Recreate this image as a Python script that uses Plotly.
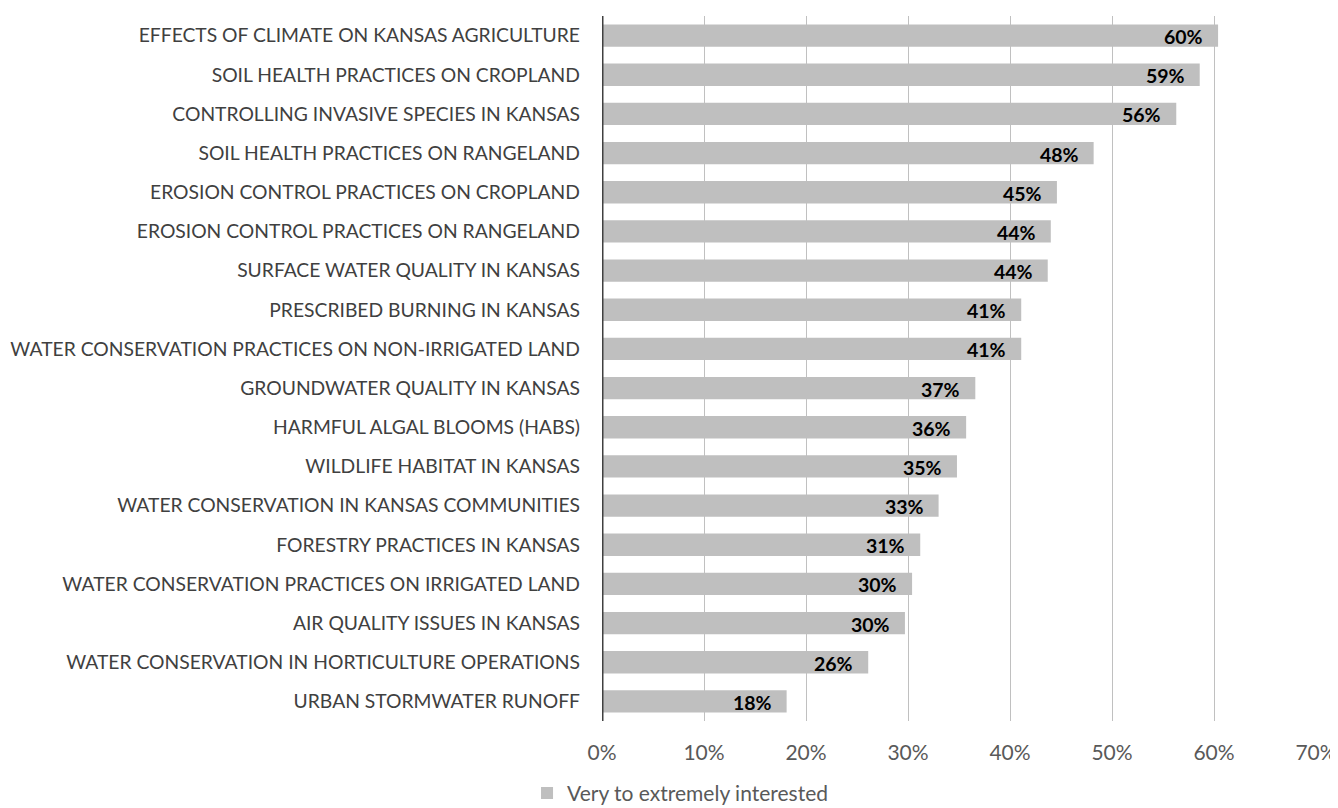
import plotly.graph_objects as go

categories = [
    "EFFECTS OF CLIMATE ON KANSAS AGRICULTURE",
    "SOIL HEALTH PRACTICES ON CROPLAND",
    "CONTROLLING INVASIVE SPECIES IN KANSAS",
    "SOIL HEALTH PRACTICES ON RANGELAND",
    "EROSION CONTROL PRACTICES ON CROPLAND",
    "EROSION CONTROL PRACTICES ON RANGELAND",
    "SURFACE WATER QUALITY IN KANSAS",
    "PRESCRIBED BURNING IN KANSAS",
    "WATER CONSERVATION PRACTICES ON NON-IRRIGATED LAND",
    "GROUNDWATER QUALITY IN KANSAS",
    "HARMFUL ALGAL BLOOMS (HABS)",
    "WILDLIFE HABITAT IN KANSAS",
    "WATER CONSERVATION IN KANSAS COMMUNITIES",
    "FORESTRY PRACTICES IN KANSAS",
    "WATER CONSERVATION PRACTICES ON IRRIGATED LAND",
    "AIR QUALITY ISSUES IN KANSAS",
    "WATER CONSERVATION IN HORTICULTURE OPERATIONS",
    "URBAN STORMWATER RUNOFF",
]
values = [0.604, 0.586, 0.563, 0.482, 0.446, 0.440, 0.437, 0.411, 0.411,
          0.366, 0.357, 0.348, 0.330, 0.312, 0.304, 0.297, 0.261, 0.181]
value_labels = ["60%", "59%", "56%", "48%", "45%", "44%", "44%", "41%", "41%",
                "37%", "36%", "35%", "33%", "31%", "30%", "30%", "26%", "18%"]
series_name = "Very to extremely interested"
tick_vals = [0, 0.1, 0.2, 0.3, 0.4, 0.5, 0.6, 0.7]
tick_text = ["0%", "10%", "20%", "30%", "40%", "50%", "60%", "70%"]

FONT = "Lato"

fig = go.Figure()
fig.add_trace(go.Bar(
    x=values, y=categories, orientation="h",
    marker=dict(color="#bfbfbf", line=dict(width=0)),
    width=0.57, name=series_name, showlegend=True,
))

for c, v, t in zip(categories, values, value_labels):
    fig.add_annotation(x=v, y=c, text="<b>" + t + "</b>", showarrow=False,
                       xanchor="right", xshift=-13, yshift=-1,
                       font=dict(family=FONT, size=19.5, color="#000000"))

# page is rendered with an 8px body margin, so the figure is 8px smaller
fig.update_layout(
    width=1330, height=800,
    margin=dict(l=594, r=22, t=8, b=87, autoexpand=False),
    plot_bgcolor="white", paper_bgcolor="white",
    font=dict(family=FONT, size=19.3, color="#404040"),
    xaxis=dict(range=[0, 0.7], tickvals=tick_vals, ticktext=tick_text,
               showgrid=True, gridcolor="#c0c0c0", gridwidth=1,
               zeroline=False, showline=False, ticks="", automargin=False,
               ticklabelstandoff=17,
               tickfont=dict(family=FONT, size=21, color="#595959")),
    yaxis=dict(autorange="reversed", showgrid=False, zeroline=False,
               showline=False, ticks="", automargin=False,
               ticklabelstandoff=21,
               tickfont=dict(family=FONT, size=19.3, color="#404040")),
    legend=dict(orientation="h", x=-0.105, xanchor="left", y=-0.1025, yanchor="middle",
                font=dict(family=FONT, size=21, color="#595959"),
                itemwidth=30),
)
fig.add_vline(x=0, line=dict(color="#404040", width=3))

fig.write_html("out.html")
